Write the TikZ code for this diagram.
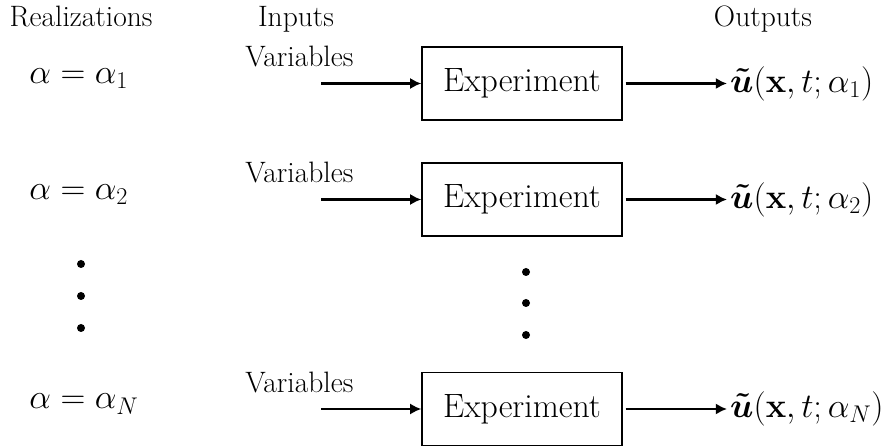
\RequirePackage{fix-cm}
\documentclass[tikz,border=0pt]{standalone}
\usepackage{amsmath,amssymb}
\usetikzlibrary{arrows.meta}

\begin{document}
\begin{tikzpicture}

\tikzstyle{every node}=[font=\fontsize{21}{25}\selectfont]
\tikzstyle{expbox}=[draw, line width=1pt, minimum width=5cm, minimum height=1.825cm, font=\fontsize{24}{28}\selectfont]
\tikzstyle{mathnode}=[font=\fontsize{24.5}{30}\selectfont]
\tikzstyle{flow}=[->, >={Latex[length=8pt,width=8pt]}, line width=1.5pt]

\useasboundingbox (0,0) rectangle (22.275,-11.15);

% column headers
\node[anchor=base] (realizations) at (2.025,-0.675) {Realizations};
\node[anchor=base] (inputs) at (7.4,-0.675) {Inputs};
\node[anchor=base] (outputs) at (19.075,-0.675) {Outputs};

\pgfmathsetmacro\x{13.05}
\pgfmathsetmacro\y{-2.0875}

\node[mathnode, anchor=base west, inner sep=0] (alpha1) at (0.725,\y) {$\alpha = \alpha_1$};
\node[expbox] (exp1) at (\x,\y) {Experiment};
\node[anchor=base west, inner sep=0] (var1) at (6.125,\y+0.4125) {Variables};
\coordinate (in1) at (8.025,\y);
\draw[flow] (in1) -- (exp1);
\node[mathnode, anchor=west, inner sep=2pt] (out1) at (18.175,\y) {$\boldsymbol{\tilde{u}}(\mathbf{x},t;\alpha_1)$};
\draw[flow, shorten <=2pt] (exp1) -- (out1);

\pgfmathsetmacro\y{-4.9875}

\node[mathnode, anchor=base west, inner sep=0] (alpha2) at (0.725,\y) {$\alpha = \alpha_2$};
\node[expbox] (exp2) at (\x,\y) {Experiment};
\node[anchor=base west, inner sep=0] (var2) at (6.125,\y+0.4125) {Variables};
\coordinate (in2) at (8.025,\y);
\draw[flow] (in2) -- (exp2);
\node[mathnode, anchor=west, inner sep=2pt] (out2) at (18.175,\y) {$\boldsymbol{\tilde{u}}(\mathbf{x},t;\alpha_2)$};
\draw[flow, shorten <=2pt] (exp2) -- (out2);

% vertical dots
\foreach \d in {-6.6,-7.4,-8.2}
  \fill (2.025,\d) circle (0.1);
\foreach \d in {-6.8,-7.575,-8.375}
  \fill (13.15,\d) circle (0.1);

\pgfmathsetmacro\y{-10.225}

\node[mathnode, anchor=base west, inner sep=0] (alphaN) at (0.725,\y) {$\alpha = \alpha_N$};
\node[expbox] (expN) at (\x,\y) {Experiment};
\node[anchor=base west, inner sep=0] (varN) at (6.125,\y+0.4125) {Variables};
\coordinate (inN) at (8.025,\y);
\draw[flow] (inN) -- (expN);
\node[mathnode, anchor=west, inner sep=2pt] (outN) at (18.175,\y) {$\boldsymbol{\tilde{u}}(\mathbf{x},t;\alpha_N)$};
\draw[flow, shorten <=2pt] (expN) -- (outN);

\end{tikzpicture}
\end{document}
